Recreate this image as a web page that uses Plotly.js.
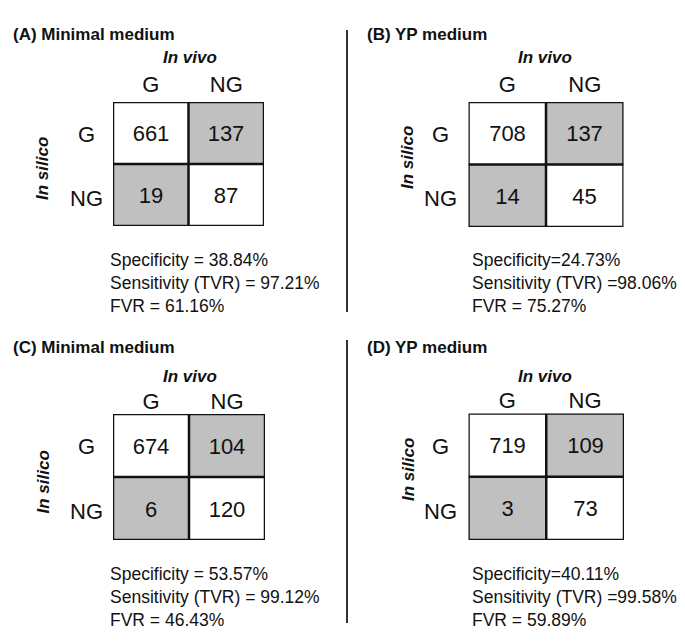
<!DOCTYPE html>
<html>
<head>
<meta charset="utf-8">
<script src="https://cdn.plot.ly/plotly-3.0.1.min.js"></script>
<style>html,body{margin:0;padding:0;background:#fff}#chart{width:685px;height:641px}</style>
</head>
<body>
<div id="chart"></div>
<script>
// ---- data ----
const colLabels = ['G', 'NG'];   // In vivo
const rowLabels = ['G', 'NG'];   // In silico
const panelTitles = ['(A) Minimal medium', '(B) YP medium', '(C) Minimal medium', '(D) YP medium'];
const countsA = [[661, 137], [19, 87]];
const countsB = [[708, 137], [14, 45]];
const countsC = [[674, 104], [6, 120]];
const countsD = [[719, 109], [3, 73]];
const specificity = [38.84, 24.73, 53.57, 40.11];
const sensitivity = [97.21, 98.06, 99.12, 99.58];
const fvr = [61.16, 75.27, 46.43, 59.89];

// ---- layout / style ----
const W = 685, H = 641;
const FONT = 'Liberation Sans, Arial, Helvetica, sans-serif';
const INK = '#111111';
const GREY = '#c0c0c0';
const compactStats = [false, true, false, true];
const geom = [
  {x0: 113, x1: 264, y0: 102, y1: 226, title: [11, 34], vivo: [190, 57.5], silico: [43, 169], rowX: 87, rowDy: [1, 3], stats: [108, 283.5], standoff: 5},
  {x0: 468.5, x1: 623.5, y0: 102, y1: 227, title: [365, 34], vivo: [545, 57.5], silico: [408, 158], rowX: 440, rowDy: [1, 3], stats: [470, 283.5], standoff: 5},
  {x0: 113, x1: 265, y0: 414, y1: 540, title: [11, 347], vivo: [190, 376], silico: [43, 482.5], rowX: 86, rowDy: [1, 3], stats: [107.5, 597], standoff: 0},
  {x0: 468.5, x1: 624, y0: 413.5, y1: 540, title: [365, 347], vivo: [545, 376], silico: [408, 470], rowX: 440, rowDy: [1, 3], stats: [470, 597], standoff: 0}
];
const px = v => v / W;
const py = v => 1 - v / H;

const allCounts = [countsA, countsB, countsC, countsD];
const traces = [];
const layout = {
  width: W, height: H,
  margin: {l: 0, r: 0, t: 0, b: 0},
  paper_bgcolor: '#ffffff', plot_bgcolor: '#ffffff',
  showlegend: false,
  font: {family: FONT, color: INK},
  annotations: [], shapes: []
};

allCounts.forEach((counts, p) => {
  const g = geom[p];
  const n = p === 0 ? '' : String(p + 1);
  const xa = 'x' + n, ya = 'y' + n;
  // correct (diagonal) cells white, misclassified cells grey
  const z = counts.map((row, i) => row.map((_, j) => (i === j ? 0 : 1)));
  traces.push({
    type: 'heatmap', xaxis: xa, yaxis: ya,
    x: [0, 1], y: [0, 1], z: z, text: counts,
    texttemplate: '%{text}', textfont: {size: 22, color: INK, family: FONT},
    colorscale: [[0, '#ffffff'], [1, GREY]], zmin: 0, zmax: 1,
    showscale: false, hoverinfo: 'skip'
  });
  layout['xaxis' + n] = {
    domain: [px(g.x0), px(g.x1)], anchor: ya, side: 'top',
    range: [-0.5, 1.5], tickvals: [0, 1], ticktext: colLabels,
    tickfont: {size: 22, color: INK, family: FONT}, ticks: '',
    ticklabelstandoff: g.standoff,
    showgrid: false, zeroline: false, showline: false, fixedrange: true
  };
  layout['yaxis' + n] = {
    domain: [py(g.y1), py(g.y0)], anchor: xa,
    range: [1.5, -0.5], showticklabels: false, ticks: '',
    showgrid: false, zeroline: false, showline: false, fixedrange: true
  };
  // grid lines
  const ln = {color: INK, width: 2.5};
  layout.shapes.push({type: 'rect', xref: xa, yref: ya, x0: -0.5, x1: 1.5, y0: -0.5, y1: 1.5, line: ln});
  layout.shapes.push({type: 'line', xref: xa, yref: ya, x0: 0.5, x1: 0.5, y0: -0.5, y1: 1.5, line: ln});
  layout.shapes.push({type: 'line', xref: xa, yref: ya, x0: -0.5, x1: 1.5, y0: 0.5, y1: 0.5, line: ln});
  // row labels (In silico categories)
  rowLabels.forEach((lab, i) => {
    layout.annotations.push({xref: 'paper', yref: ya, x: px(g.rowX), y: i, yshift: -g.rowDy[i], text: lab,
      showarrow: false, xanchor: 'center', yanchor: 'middle', font: {size: 22, color: INK}});
  });
  // panel title
  layout.annotations.push({xref: 'paper', yref: 'paper', x: px(g.title[0]), y: py(g.title[1]),
    text: '<b>' + panelTitles[p] + '</b>', showarrow: false, xanchor: 'left', yanchor: 'middle',
    font: {size: 17, color: INK}});
  // axis titles
  layout.annotations.push({xref: 'paper', yref: 'paper', x: px(g.vivo[0]), y: py(g.vivo[1]),
    text: '<b><i>In vivo</i></b>', showarrow: false, xanchor: 'center', yanchor: 'middle',
    font: {size: 17, color: INK}});
  layout.annotations.push({xref: 'paper', yref: 'paper', x: px(g.silico[0]), y: py(g.silico[1]),
    text: '<b><i>In silico</i></b>', showarrow: false, xanchor: 'center', yanchor: 'middle',
    textangle: -90, font: {size: 17, color: INK}});
  // stats
  const c = compactStats[p];
  const lines = [
    (c ? 'Specificity=' : 'Specificity = ') + specificity[p].toFixed(2) + '%',
    (c ? 'Sensitivity (TVR) =' : 'Sensitivity (TVR) = ') + sensitivity[p].toFixed(2) + '%',
    'FVR = ' + fvr[p].toFixed(2) + '%'
  ];
  layout.annotations.push({xref: 'paper', yref: 'paper', x: px(g.stats[0]), y: py(g.stats[1]),
    text: lines.join('<br>'), showarrow: false, xanchor: 'left', yanchor: 'middle', align: 'left',
    font: {size: 17.5, color: INK}});
});

// vertical separators between left and right panels
const sep = {color: '#333333', width: 2};
layout.shapes.push({type: 'line', xref: 'paper', yref: 'paper', x0: px(347), x1: px(347), y0: py(30), y1: py(312), line: sep});
layout.shapes.push({type: 'line', xref: 'paper', yref: 'paper', x0: px(347), x1: px(347), y0: py(340), y1: py(623), line: sep});

Plotly.newPlot('chart', traces, layout, {displayModeBar: false, staticPlot: true});
</script>
</body>
</html>
